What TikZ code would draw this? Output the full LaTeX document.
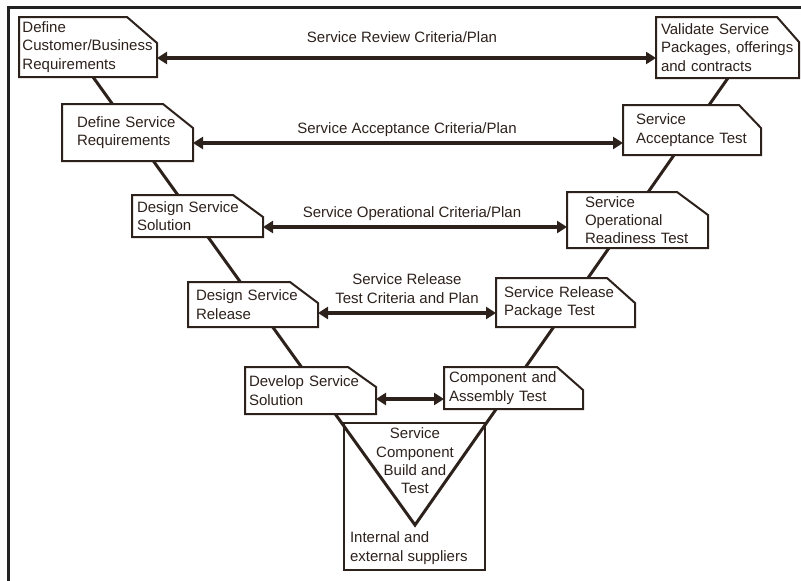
\documentclass[tikz,border=0pt]{standalone}
\usepackage{fontspec}
\setmainfont{Liberation Sans}
\usetikzlibrary{arrows.meta}
\pgfdeclarelayer{background}
\pgfsetlayers{background,main}
\definecolor{ink}{RGB}{45,33,28}
\definecolor{framegray}{RGB}{35,35,35}

% outline of a stage box: rectangle with its top-right corner cut off
% #1 node name, #2 horizontal cut length, #3 vertical cut length
\newcommand\stageoutline[3]{%
  \filldraw[boxline] (#1.north west) -- ([xshift=-#2pt]#1.north east)
    -- ([yshift=-#3pt]#1.north east) -- (#1.south east)
    -- (#1.south west) -- cycle;}

\tikzset{
  txt/.style={font=\fontsize{15}{18.3}\selectfont, text=ink, inner sep=0pt, outer sep=0pt},
  stage/.style={txt, anchor=north west, align=left},
  boxline/.style={draw=ink, fill=white, line width=2pt, line join=miter},
  vline/.style={draw=ink, line width=3pt, line join=miter},
  link/.style={draw=ink, line width=4pt,
    {Triangle[length=10pt,width=12pt]}-{Triangle[length=10pt,width=12pt]}},
}

\begin{document}
\begin{tikzpicture}[x=1pt, y=-1pt]
\useasboundingbox (0,0) rectangle (801,581);

% stage boxes, left leg (definition) and right leg (testing)
\node[stage, text width=131pt, inner xsep=3.5pt, minimum height=60pt] (b1) at (19,17)
  {Define\\Customer/Business\\Requirements};
\node[stage, text width=133pt, inner xsep=5pt, minimum height=61pt] (b2) at (656,17)
  {Validate Service\\Packages, offerings\\and contracts};
\node[stage, text width=101pt, inner xsep=15pt, minimum height=57pt] (b3) at (62,104)
  {Define Service\\Requirements};
\node[stage, text width=112pt, inner xsep=13pt, minimum height=50pt] (b4) at (623,105)
  {Service\\Acceptance Test};
\node[stage, text width=121pt, inner xsep=5pt, minimum height=42pt] (b5) at (132,195)
  {Design Service\\Solution};
\node[stage, text width=105pt, inner xsep=18pt, minimum height=56pt] (b6) at (567,192)
  {Service\\Operational\\Readiness Test};
\node[stage, text width=114pt, inner xsep=8pt, minimum height=45pt] (b7) at (188,282)
  {Design Service\\Release};
\node[stage, text width=123pt, inner xsep=8pt, minimum height=49pt] (b8) at (496,278)
  {Service Release\\Package Test};
\node[stage, text width=123pt, inner xsep=4pt, minimum height=47pt] (b9) at (245,367)
  {Develop Service\\Solution};
\node[stage, text width=129pt, inner xsep=5pt, minimum height=42pt] (b10) at (444,367)
  {Component and\\Assembly Test};

% supplier box at the foot of the V
\node[draw=ink, line width=2pt, minimum width=141pt, minimum height=147pt,
  anchor=north west, inner sep=0pt, outer sep=0pt] (supply) at (344,423) {};
\node[txt, anchor=north, align=center] (build) at (415,428)
  {Service\\Component\\Build and\\Test};
\node[txt, anchor=north west, align=left] (suppliers) at (350,532)
  {Internal and\\external suppliers};

% V-shaped spine and box outlines behind the text
\coordinate (vL) at (93,77);
\coordinate (apex) at (415,525);
\coordinate (vR) at (728,78);
\begin{pgfonlayer}{background}
  \draw[vline] (vL) -- (apex) -- (vR);
  \stageoutline{b1}{30}{26}
  \stageoutline{b2}{22}{25}
  \stageoutline{b3}{30}{24}
  \stageoutline{b4}{22}{23}
  \stageoutline{b5}{30}{22}
  \stageoutline{b6}{31}{23}
  \stageoutline{b7}{28}{21}
  \stageoutline{b8}{28}{25}
  \stageoutline{b9}{28}{20}
  \stageoutline{b10}{26}{23}
\end{pgfonlayer}

% criteria links between matching levels
\draw[link] (b1.east |- 0,58) -- (b2.west |- 0,58);
\draw[link] (b3.east |- 0,143) -- (b4.west |- 0,143);
\draw[link] (b5.east |- 0,227) -- (b6.west |- 0,227);
\draw[link] (b7.east |- 0,313) -- (b8.west |- 0,313);
\draw[link] (b9.east |- 0,399) -- (b10.west |- 0,399);

\node[txt, anchor=base] (l1) at (402,42) {Service Review Criteria/Plan};
\node[txt, anchor=base] (l2) at (407,133) {Service Acceptance Criteria/Plan};
\node[txt, anchor=base] (l3) at (412,217) {Service Operational Criteria/Plan};
\node[txt, anchor=north, align=center] (l4) at (407,274) {Service Release\\Test Criteria and Plan};

% page frame (top and left edges)
\draw[framegray, line width=2.5pt] (8.5,581) -- (8.5,7.5) -- (801,7.5);
\end{tikzpicture}
\end{document}
